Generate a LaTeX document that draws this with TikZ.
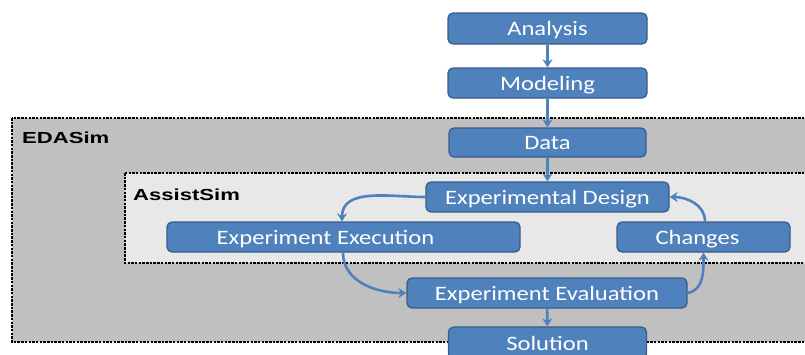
\documentclass[tikz,border=0pt]{standalone}
\usepackage{fontspec}
\usepackage{graphicx}
\setmainfont{Carlito}
\newfontfamily\labfont{Liberation Sans}
\usetikzlibrary{arrows.meta}
\definecolor{boxblue}{HTML}{4F81BD}
\definecolor{boxedge}{HTML}{385D8A}
\definecolor{outergray}{HTML}{C0C0C0}
\definecolor{innergray}{HTML}{E8E8E8}
\newcommand\bxtext[1]{\scalebox{1.2}[1]{#1}}
\newcommand\lbtext[1]{\scalebox{1.38}[1]{\labfont\bfseries #1}}
\tikzset{
  procbox/.style={draw=boxedge, line width=1.3pt, fill=boxblue, rounded corners=5pt,
    text=white, font=\fontsize{20.5}{22}\selectfont, inner sep=0pt,
    text height=17pt, text depth=3pt},
  flow/.style={draw=boxblue, line width=2.6pt, -{Stealth[length=8pt,width=10pt]}},
  region/.style={draw=black, line width=1.2pt, dash pattern=on 2.5pt off 1.2pt},
  reglabel/.style={anchor=west, font=\fontsize{16}{18}\selectfont, inner sep=0pt}
}
\begin{document}
\begin{tikzpicture}[x=1pt,y=-1pt]
\useasboundingbox (0,0) rectangle (805,354);
\clip (0,0) rectangle (805,354);
\fill[white] (0,0) rectangle (805,354);
% regions
\draw[region, fill=outergray] (12,118) rectangle (815,342);
\node[reglabel] (edalab) at (22,138) {\lbtext{EDASim}};
\draw[region, fill=innergray] (125,173) rectangle (815,263);
\node[reglabel] (asslab) at (133,195) {\lbtext{AssistSim}};
% boxes
\node[procbox, minimum width=199pt, minimum height=31pt] (ana) at (547.5,28.5) {\bxtext{Analysis}};
\node[procbox, minimum width=199pt, minimum height=30pt] (mod) at (547.5,83) {\bxtext{Modeling}};
\node[procbox, minimum width=197pt, minimum height=29pt] (dat) at (547.5,142.5) {\bxtext{Data}};
\node[procbox, minimum width=243pt, minimum height=30pt] (des) at (547.5,197) {\bxtext{Experimental Design}};
\node[procbox, minimum width=353pt, minimum height=30pt] (exe) at (343.5,237) {\bxtext{Experiment Execution}\kern36pt\relax};
\node[procbox, minimum width=173pt, minimum height=30pt] (chg) at (703.5,237) {\bxtext{Changes}\kern12pt\relax};
\node[procbox, minimum width=280pt, minimum height=30pt] (eva) at (547,293) {\bxtext{Experiment Evaluation}};
\node[procbox, minimum width=198pt, minimum height=32pt] (sol) at (547.5,343) {\bxtext{Solution}};
% connectors
\draw[flow] (ana) -- (mod);
\draw[flow] (mod) -- (dat);
\draw[flow] (dat) -- (des);
\draw[flow] (des.west) to[out=180,in=90] ([xshift=-1.5pt]exe.north);
\draw[flow] ([xshift=-0.5pt]exe.south) to[out=-90,in=180] (eva.west);
\draw[flow] (eva.east) to[out=10,in=-90] (chg.south);
\draw[flow] ([xshift=1.5pt]chg.north) to[out=90,in=0] (des.east);
\draw[flow] (eva) -- (sol);
\end{tikzpicture}
\end{document}
